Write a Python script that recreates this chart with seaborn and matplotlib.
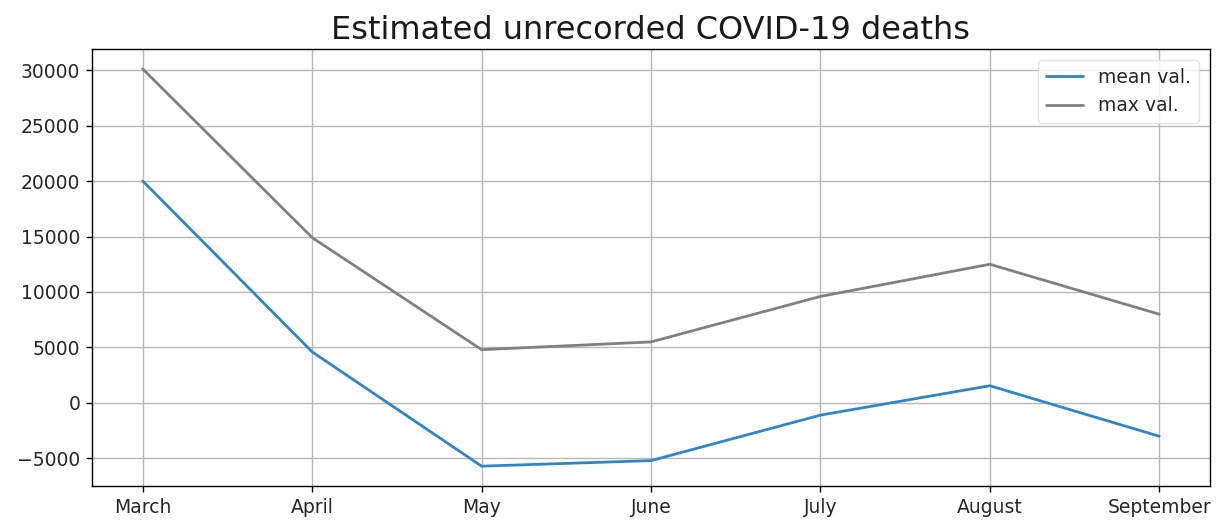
import matplotlib
matplotlib.use("Agg")
import matplotlib.pyplot as plt
import seaborn as sns
import pandas as pd

months = ["March", "April", "May", "June", "July", "August", "September"]
mean_vals = [20000, 4600, -5700, -5200, -1100, 1550, -3000]
max_vals = [30100, 14900, 4800, 5500, 9600, 12500, 8000]
series_names = ["mean val.", "max val."]

sns.set_theme(style="ticks")
plt.rcParams.update({
    "font.family": ["DejaVu Sans"],
    "axes.edgecolor": "black",
    "axes.linewidth": 1.0,
    "xtick.color": "black",
    "ytick.color": "black",
    "xtick.labelcolor": "#262626",
    "ytick.labelcolor": "#262626",
})

df = pd.DataFrame({
    "month": months * 2,
    "value": mean_vals + max_vals,
    "series": [series_names[0]] * len(months) + [series_names[1]] * len(months),
})
df["pos"] = list(range(len(months))) * 2

fig = plt.figure(figsize=(12.2, 5.23), dpi=100)
ax = fig.add_axes([0.0754, 0.0707, 0.9164, 0.8353])

sns.lineplot(data=df, x="pos", y="value", hue="series",
             palette={series_names[0]: "#2e86c9", series_names[1]: "#808080"},
             linewidth=2.0, ax=ax, legend=True)

ax.set_xticks(range(len(months)))
ax.set_xticklabels(months)
ax.set_xlabel("")
ax.set_ylabel("")
ax.margins(x=0.05, y=0.05)
ax.grid(True, color="#b8b8b8", linewidth=1.0)
ax.tick_params(axis="both", labelsize=13.5, length=4.5, width=1, pad=4)
ax.set_title("Estimated unrecorded COVID-19 deaths", fontsize=23, color="#1a1a1a", pad=7)

leg = ax.legend(loc="upper right", fontsize=13.5, frameon=True, fancybox=True,
                handlelength=2.0, borderaxespad=0.6)
leg.get_frame().set_edgecolor("#dddddd")
for s in ax.spines.values():
    s.set_visible(True)

fig.savefig("out.png", dpi=100)
